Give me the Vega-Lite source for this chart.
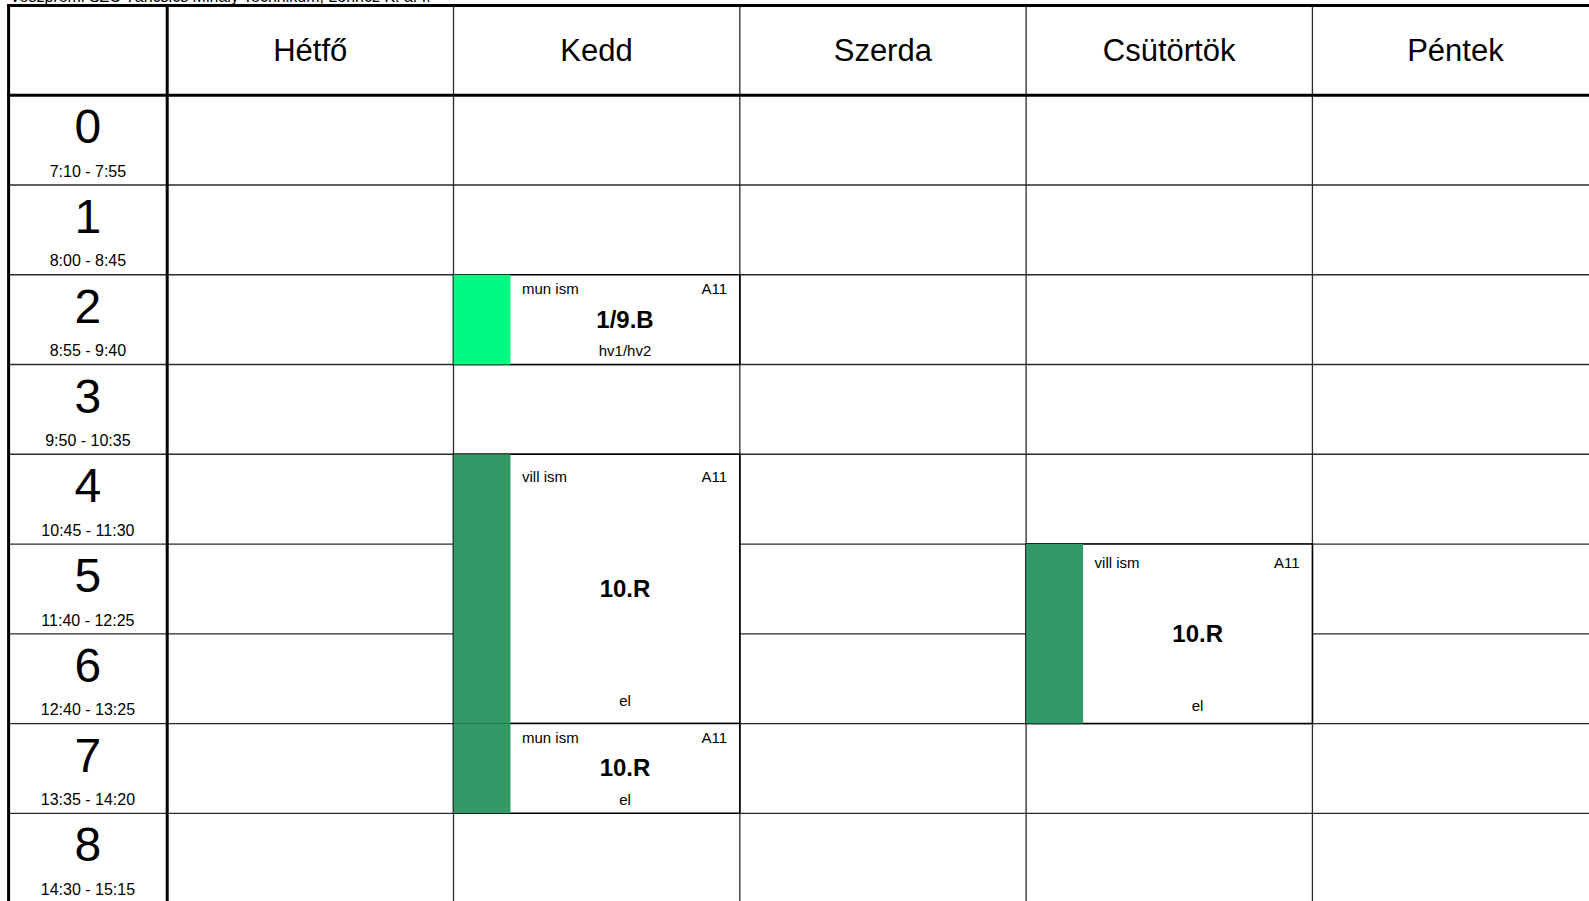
{
  "$schema": "https://vega.github.io/schema/vega-lite/v6.json",
  "width": 1589,
  "height": 901,
  "padding": 0,
  "autosize": {"type": "none"},
  "background": "white",
  "config": {"view": {"stroke": null}, "font": "Liberation Sans", "axis": {"disable": true}},
  "datasets": {
    "days": [
      {"day": "Hétfő", "i": 0},
      {"day": "Kedd", "i": 1},
      {"day": "Szerda", "i": 2},
      {"day": "Csütörtök", "i": 3},
      {"day": "Péntek", "i": 4}
    ],
    "periods": [
      {"p": 0, "label": "0", "time": "7:10 - 7:55"},
      {"p": 1, "label": "1", "time": "8:00 - 8:45"},
      {"p": 2, "label": "2", "time": "8:55 - 9:40"},
      {"p": 3, "label": "3", "time": "9:50 - 10:35"},
      {"p": 4, "label": "4", "time": "10:45 - 11:30"},
      {"p": 5, "label": "5", "time": "11:40 - 12:25"},
      {"p": 6, "label": "6", "time": "12:40 - 13:25"},
      {"p": 7, "label": "7", "time": "13:35 - 14:20"},
      {"p": 8, "label": "8", "time": "14:30 - 15:15"}
    ],
    "vlines": [
      {"x": -0.554, "w": "thick"},
      {"x": 0, "w": "thick"},
      {"x": 1, "w": "thin"},
      {"x": 2, "w": "thin"},
      {"x": 3, "w": "thin"},
      {"x": 4, "w": "thin"},
      {"x": 5, "w": "thin"}
    ],
    "hlines": [
      {"y": -1, "w": "thick"},
      {"y": 0, "w": "thick"},
      {"y": 1, "w": "thin"},
      {"y": 2, "w": "thin"},
      {"y": 3, "w": "thin"},
      {"y": 4, "w": "thin"},
      {"y": 5, "w": "thin"},
      {"y": 6, "w": "thin"},
      {"y": 7, "w": "thin"},
      {"y": 8, "w": "thin"},
      {"y": 9, "w": "thin"}
    ],
    "lessons": [
      {"day": 1, "start": 2, "end": 3, "subject": "mun ism", "room": "A11", "group": "1/9.B", "teacher": "hv1/hv2"},
      {"day": 1, "start": 4, "end": 7, "subject": "vill ism", "room": "A11", "group": "10.R", "teacher": "el"},
      {"day": 1, "start": 7, "end": 8, "subject": "mun ism", "room": "A11", "group": "10.R", "teacher": "el"},
      {"day": 3, "start": 5, "end": 7, "subject": "vill ism", "room": "A11", "group": "10.R", "teacher": "el"}
    ]
  },
  "layer": [
    {
      "data": {"name": "hlines"},
      "transform": [{"filter": "datum.w == 'thin'"}],
      "mark": {"type": "rule", "stroke": "#2a2a2a", "strokeWidth": 1.3},
      "encoding": {
        "y": {"field": "y", "type": "quantitative", "scale": {"domain": [-1.061, 8.977], "nice": false, "zero": false, "reverse": true}, "axis": null},
        "x": {"datum": -0.554, "type": "quantitative", "scale": {"domain": [-0.584, 4.966], "nice": false, "zero": false}, "axis": null},
        "x2": {"datum": 5}
      }
    },
    {
      "data": {"name": "vlines"},
      "transform": [{"filter": "datum.w == 'thin'"}],
      "mark": {"type": "rule", "stroke": "#2a2a2a", "strokeWidth": 1.3},
      "encoding": {
        "x": {"field": "x", "type": "quantitative", "scale": {"domain": [-0.584, 4.966], "nice": false, "zero": false}, "axis": null},
        "y": {"datum": -1, "type": "quantitative", "scale": {"domain": [-1.061, 8.977], "nice": false, "zero": false, "reverse": true}, "axis": null},
        "y2": {"datum": 9.2}
      }
    },
    {
      "data": {"name": "lessons"},
      "transform": [{"calculate": "datum.day + 1", "as": "dayEnd"}],
      "mark": {"type": "rect", "fill": "white", "stroke": "black", "strokeWidth": 1.6},
      "encoding": {
        "x": {"field": "day", "type": "quantitative", "scale": {"domain": [-0.584, 4.966], "nice": false, "zero": false}, "axis": null},
        "x2": {"field": "dayEnd"},
        "y": {"field": "start", "type": "quantitative", "scale": {"domain": [-1.061, 8.977], "nice": false, "zero": false, "reverse": true}, "axis": null},
        "y2": {"field": "end"}
      }
    },
    {
      "data": {"name": "lessons"},
      "transform": [{"calculate": "datum.day + 0.199", "as": "stripeEnd"}],
      "mark": {"type": "rect", "strokeWidth": 0},
      "encoding": {
        "x": {"field": "day", "type": "quantitative", "scale": {"domain": [-0.584, 4.966], "nice": false, "zero": false}, "axis": null},
        "x2": {"field": "stripeEnd"},
        "y": {"field": "start", "type": "quantitative", "scale": {"domain": [-1.061, 8.977], "nice": false, "zero": false, "reverse": true}, "axis": null},
        "y2": {"field": "end"},
        "color": {"field": "group", "type": "nominal", "scale": {"domain": ["1/9.B", "10.R"], "range": ["#00FA82", "#339966"]}, "legend": null}
      }
    },
    {
      "data": {"name": "hlines"},
      "transform": [{"filter": "datum.w == 'thick'"}],
      "mark": {"type": "rule", "stroke": "black", "strokeWidth": 3},
      "encoding": {
        "y": {"field": "y", "type": "quantitative", "scale": {"domain": [-1.061, 8.977], "nice": false, "zero": false, "reverse": true}, "axis": null},
        "x": {"datum": -0.559, "type": "quantitative", "scale": {"domain": [-0.584, 4.966], "nice": false, "zero": false}, "axis": null},
        "x2": {"datum": 5}
      }
    },
    {
      "data": {"name": "vlines"},
      "transform": [{"filter": "datum.w == 'thick'"}],
      "mark": {"type": "rule", "stroke": "black", "strokeWidth": 3},
      "encoding": {
        "x": {"field": "x", "type": "quantitative", "scale": {"domain": [-0.584, 4.966], "nice": false, "zero": false}, "axis": null},
        "y": {"datum": -1.005, "type": "quantitative", "scale": {"domain": [-1.061, 8.977], "nice": false, "zero": false, "reverse": true}, "axis": null},
        "y2": {"datum": 9.2}
      }
    },
    {
      "data": {"values": [{"t": "Veszprémi SZC Táncsics Mihály Technikum, Lőrincz K. a. f."}]},
      "mark": {"type": "text", "align": "left", "baseline": "alphabetic", "fontSize": 16, "color": "black"},
      "encoding": {
        "text": {"field": "t"},
        "x": {"datum": -0.55, "type": "quantitative", "scale": {"domain": [-0.584, 4.966], "nice": false, "zero": false}, "axis": null},
        "y": {"datum": -1.035, "type": "quantitative", "scale": {"domain": [-1.061, 8.977], "nice": false, "zero": false, "reverse": true}, "axis": null}
      }
    },
    {
      "data": {"name": "days"},
      "mark": {"type": "text", "align": "center", "baseline": "alphabetic", "fontSize": 31, "color": "black", "dx": 143, "dy": 56},
      "encoding": {
        "text": {"field": "day"},
        "x": {"field": "i", "type": "quantitative", "scale": {"domain": [-0.584, 4.966], "nice": false, "zero": false}, "axis": null},
        "y": {"datum": -1, "type": "quantitative", "scale": {"domain": [-1.061, 8.977], "nice": false, "zero": false, "reverse": true}, "axis": null}
      }
    },
    {
      "data": {"name": "periods"},
      "mark": {"type": "text", "align": "center", "baseline": "alphabetic", "fontSize": 48, "color": "black", "dy": 48},
      "encoding": {
        "text": {"field": "label"},
        "x": {"datum": -0.277, "type": "quantitative", "scale": {"domain": [-0.584, 4.966], "nice": false, "zero": false}, "axis": null},
        "y": {"field": "p", "type": "quantitative", "scale": {"domain": [-1.061, 8.977], "nice": false, "zero": false, "reverse": true}, "axis": null}
      }
    },
    {
      "data": {"name": "periods"},
      "mark": {"type": "text", "align": "center", "baseline": "alphabetic", "fontSize": 16, "color": "black", "dy": 81.5},
      "encoding": {
        "text": {"field": "time"},
        "x": {"datum": -0.277, "type": "quantitative", "scale": {"domain": [-0.584, 4.966], "nice": false, "zero": false}, "axis": null},
        "y": {"field": "p", "type": "quantitative", "scale": {"domain": [-1.061, 8.977], "nice": false, "zero": false, "reverse": true}, "axis": null}
      }
    },
    {
      "data": {"name": "lessons"},
      "mark": {"type": "text", "align": "left", "baseline": "alphabetic", "fontSize": 15, "color": "black", "dx": 68.5,
        "dy": {"expr": "datum.end - datum.start == 1 ? 19 : (datum.end - datum.start == 2 ? 23.5 : 27.5)"}},
      "encoding": {
        "text": {"field": "subject"},
        "x": {"field": "day", "type": "quantitative", "scale": {"domain": [-0.584, 4.966], "nice": false, "zero": false}, "axis": null},
        "y": {"field": "start", "type": "quantitative", "scale": {"domain": [-1.061, 8.977], "nice": false, "zero": false, "reverse": true}, "axis": null}
      }
    },
    {
      "data": {"name": "lessons"},
      "mark": {"type": "text", "align": "right", "baseline": "alphabetic", "fontSize": 15, "color": "black", "dx": 273.5,
        "dy": {"expr": "datum.end - datum.start == 1 ? 19 : (datum.end - datum.start == 2 ? 23.5 : 27.5)"}},
      "encoding": {
        "text": {"field": "room"},
        "x": {"field": "day", "type": "quantitative", "scale": {"domain": [-0.584, 4.966], "nice": false, "zero": false}, "axis": null},
        "y": {"field": "start", "type": "quantitative", "scale": {"domain": [-1.061, 8.977], "nice": false, "zero": false, "reverse": true}, "axis": null}
      }
    },
    {
      "data": {"name": "lessons"},
      "mark": {"type": "text", "align": "center", "baseline": "alphabetic", "fontSize": 24, "fontWeight": "bold", "color": "black", "dx": 171.5,
        "dy": {"expr": "(datum.end - datum.start) * 44.875 + 8"}},
      "encoding": {
        "text": {"field": "group"},
        "x": {"field": "day", "type": "quantitative", "scale": {"domain": [-0.584, 4.966], "nice": false, "zero": false}, "axis": null},
        "y": {"field": "start", "type": "quantitative", "scale": {"domain": [-1.061, 8.977], "nice": false, "zero": false, "reverse": true}, "axis": null}
      }
    },
    {
      "data": {"name": "lessons"},
      "mark": {"type": "text", "align": "center", "baseline": "alphabetic", "fontSize": 15, "color": "black", "dx": 171.5,
        "dy": {"expr": "datum.end - datum.start == 1 ? -8.5 : (datum.end - datum.start == 2 ? -12.7 : -18)"}},
      "encoding": {
        "text": {"field": "teacher"},
        "x": {"field": "day", "type": "quantitative", "scale": {"domain": [-0.584, 4.966], "nice": false, "zero": false}, "axis": null},
        "y": {"field": "end", "type": "quantitative", "scale": {"domain": [-1.061, 8.977], "nice": false, "zero": false, "reverse": true}, "axis": null}
      }
    }
  ]
}
